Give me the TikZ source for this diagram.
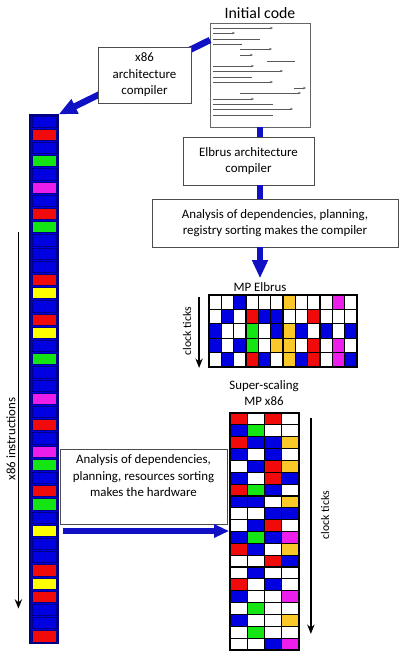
\documentclass[tikz,border=0pt]{standalone}
\usepackage{fontspec}
\setmainfont{Carlito}
\usetikzlibrary{arrows.meta,positioning}
\definecolor{flowblue}{RGB}{16,16,196}
\definecolor{cB}{RGB}{0,0,225}
\definecolor{cR}{RGB}{240,10,10}
\definecolor{cG}{RGB}{20,230,20}
\definecolor{cY}{RGB}{250,200,40}
\definecolor{cL}{RGB}{255,255,0}
\definecolor{cM}{RGB}{235,30,235}
\definecolor{cW}{RGB}{255,255,255}

\begin{document}
\begin{tikzpicture}[x=0.03cm, y=-0.03cm,
  txtbox/.style={draw=black!70, line width=0.6pt, fill=white, align=center, inner sep=1pt, font=\fontsize{11}{14}\selectfont},
  flow/.style={draw=flowblue, line width=5.5pt},
  flowarrow/.style={flow, -{Triangle[length=0.55cm, width=0.45cm]}},
  tick/.style={draw=black, line width=1.2pt, -{Stealth[length=0.28cm, width=0.22cm]}},
  codeline/.style={draw=black!65, line width=0.6pt},
  cell/.style={draw=black, line width=1pt},
  lbl/.style={font=\fontsize{11}{14}\selectfont, align=center},
  ticklbl/.style={font=\fontsize{10}{12}\selectfont, rotate=90}
]
\useasboundingbox (0,0) rectangle (400,659);

% initial code sheet
\node[lbl, font=\fontsize{13.5}{16}\selectfont] (codetitle) at (260,13) {Initial code};
\node[draw=black!60, line width=0.7pt, minimum width=3cm, minimum height=3.12cm] (code) at (260,75) {};
\foreach \ya/\xa/\xb in {28/213/273, 33/213/235, 49/240/272, 55/240/253, 66/213/254, 71/213/283, 82/213/273, 88/294/306, 93/240/301, 99/213/254, 109/213/293}
  \draw[codeline, -{Stealth[length=2.5pt, width=2pt]}] (\xa,\ya) -- (\xb,\ya);
\foreach \ya/\xa/\xb in {39/213/260, 44/213/242, 61/267/295, 77/213/252, 104/213/273, 115/213/273}
  \draw[codeline] (\xa,\ya) -- (\xb,\ya);

% x86 instruction stream
\node[draw=cB!60!black, fill=cB, line width=1pt, minimum width=0.84cm, minimum height=15.84cm, inner sep=0pt] (col) at (44,379) {};
\foreach \c [count=\i] in {B,R,B,G,B,M,B,R,G,B,B,B,R,L,B,R,L,B,G,B,B,M,B,R,B,M,G,B,R,G,B,L,B,B,R,L,R,B,B,R}
  \filldraw[draw=cB!60!black, line width=0.8pt, fill=c\c] ({32}, {115+13.2*\i-12.2}) rectangle ({56}, {115+13.2*\i-1});
\draw[tick] ([xshift=-0.33cm, yshift=-3.54cm]col.north west) -- ([xshift=-0.33cm, yshift=1.05cm]col.south west);
\node[ticklbl, font=\fontsize{11}{13}\selectfont] (colticks) at (11,439) {x86 instructions};

% compilers
\coordinate (codeout) at (210,40);
\draw[flowarrow] (codeout) -- (col.north east);
\node[txtbox, minimum width=2.79cm, minimum height=1.68cm] (x86c) at (144.5,75) {x86\\architecture\\compiler};
\node[txtbox, minimum width=3.93cm, minimum height=1.44cm] (elbc) at (248.5,161) {Elbrus architecture\\compiler};
\node[txtbox, minimum width=7.38cm, minimum height=1.44cm] (ana) at (275,223) {Analysis of dependencies, planning,\\registry sorting makes the compiler};
\node[lbl] (mpelb) at (260,287) {MP Elbrus};
\draw[flow] (code.south) -- (code.south |- elbc.north);
\draw[flow] (elbc.south -| code.south) -- (code.south |- ana.north);
\draw[flowarrow] (ana.south -| code.south) -- (code.south |- mpelb.north);

% MP Elbrus schedule
\foreach \row [count=\r] in {{W,W,B,W,W,W,Y,W,W,W,M,W},{W,B,W,R,B,B,W,W,R,W,W,W},{B,W,W,G,W,B,Y,B,W,B,W,B},{B,W,B,G,W,Y,Y,W,R,W,M,W},{W,B,W,R,B,W,Y,B,R,W,M,B}}
  \foreach \c [count=\k] in \row
    \filldraw[cell, fill=c\c] ({209+12.33*(\k-1)}, {295+14.4*(\r-1)}) rectangle ++(12.33,14.4);
\node[draw=black, line width=1.5pt, minimum width=4.44cm, minimum height=2.16cm, inner sep=0pt] (elg) at (283,331) {};
\draw[tick] ([xshift=-0.27cm, yshift=-0.1cm]elg.north west) -- ([xshift=-0.27cm]elg.south west);
\node[ticklbl] (elgticks) at (187,331) {clock ticks};

% superscalar x86 schedule
\node[lbl] (mpx) at (264,393) {Super-scaling\\MP x86};
\foreach \row [count=\r] in {{R,W,R,W},{B,G,W,W},{R,B,B,Y},{B,W,B,W},{W,B,R,Y},{B,W,R,B},{R,G,B,W},{B,B,W,Y},{W,W,B,B},{W,B,R,W},{B,G,B,M},{R,B,W,Y},{W,W,R,B},{W,B,W,W},{R,W,B,W},{B,W,W,M},{W,G,W,W},{B,W,W,Y},{W,G,W,W},{W,W,B,M}}
  \foreach \c [count=\k] in \row
    \filldraw[cell, fill=c\c] ({230+17.25*(\k-1)}, {413+11.85*(\r-1)}) rectangle ++(17.25,11.85);
\node[draw=black, line width=1.5pt, minimum width=2.07cm, minimum height=7.11cm, inner sep=0pt] (xg) at (264.5,531.5) {};
\draw[tick] ([xshift=0.33cm, yshift=-0.18cm]xg.north east) -- ([xshift=0.33cm, yshift=0.51cm]xg.south east);
\node[ticklbl] (xgticks) at (325,515) {clock ticks};

% hardware scheduling
\node[txtbox, minimum width=5.01cm, minimum height=2.25cm] (hwc) at (143.5,486.5) {\parbox[c][2.05cm][t]{4.9cm}{\centering\vspace*{2pt}Analysis of dependencies,\\planning, resources sorting\\makes the hardware}};
\coordinate (hwout) at (63,531);
\draw[flowarrow, -{Triangle[length=0.45cm, width=0.38cm]}] (hwout) -- (hwout -| xg.west);
\end{tikzpicture}
\end{document}
